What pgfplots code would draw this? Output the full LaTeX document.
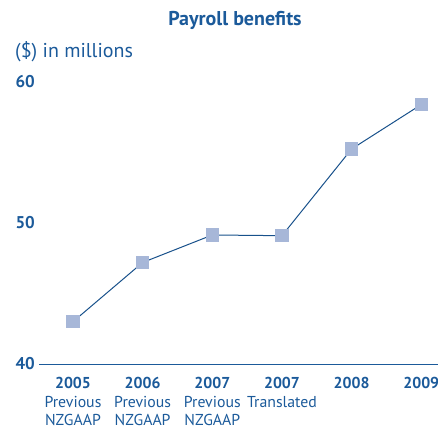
\documentclass[border=0pt]{standalone}
\usepackage{pgfplots}
\pgfplotsset{compat=1.18}
\usepackage{fontspec}
\setmainfont{PT Sans}
\definecolor{txtblue}{HTML}{1B5A9A}
\definecolor{mkblue}{HTML}{A7B7D8}
\begin{document}
\begin{tikzpicture}
\useasboundingbox (-42pt,-61pt) rectangle (396pt,364pt);
\begin{axis}[
  at={(0,0)}, anchor=south west,
  scale only axis, width=396pt, height=282pt,
  xmin=-0.445, xmax=5.24, ymin=40, ymax=60,
  clip=false,
  axis x line=bottom, axis y line=left,
  x axis line style={draw=txtblue, line width=0.9pt, -},
  y axis line style={draw=none},
  xtick={0,1,2,3,4,5},
  xticklabels={{\bfseries 2005\\Previous\\NZGAAP},{\bfseries 2006\\Previous\\NZGAAP},{\bfseries 2007\\Previous\\NZGAAP},{\bfseries 2007\\Translated},{\bfseries 2008},{\bfseries 2009}},
  xticklabel style={align=center, anchor=north, font=\fontsize{15.8}{18.2}\selectfont, text=txtblue, yshift=-10pt},
  ytick={40,50,60},
  yticklabel style={anchor=west, xshift=-30pt, font=\bfseries\fontsize{17}{19}\selectfont, text=txtblue},
  /pgf/number format/assume math mode=true,
  major tick length=0pt,
  extra y ticks={40}, extra y tick labels={},
  extra y tick style={major tick length=3pt, tick style={draw=txtblue, line width=1pt}, tick align=outside},
  tick style={draw=none},
]
\addplot[color=txtblue!90!black, line width=1pt, mark=square*, mark size=6.2pt, mark options={draw=mkblue, fill=mkblue}]
  coordinates {(0,43.0) (1,47.2) (2,49.15) (3,49.1) (4,55.25) (5,58.4)};
\end{axis}
\node[font=\bfseries\fontsize{20}{22}\selectfont, text=txtblue] at (193pt,344pt) {Payroll benefits};
\node[anchor=west, font=\fontsize{20}{22}\selectfont, text=txtblue, inner sep=0pt] at (-27pt,312pt) {(\$) in millions};
\end{tikzpicture}
\end{document}
